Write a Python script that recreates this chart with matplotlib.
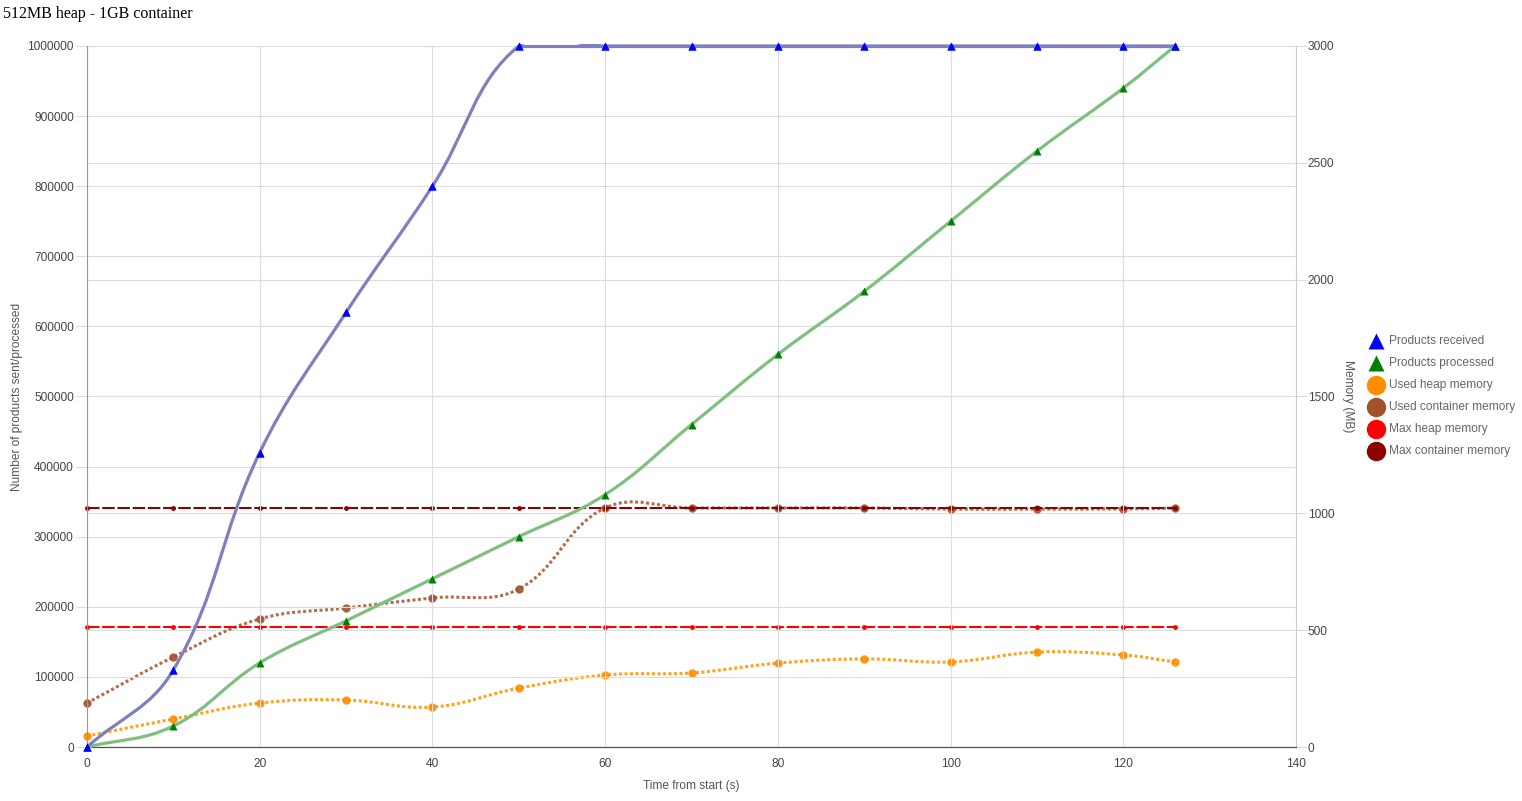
import numpy as np
import matplotlib
matplotlib.use("Agg")
import matplotlib.pyplot as plt
from matplotlib.path import Path
from matplotlib.patches import PathPatch, Rectangle
from matplotlib.lines import Line2D

plt.rcParams['font.family'] = ['Liberation Sans', 'DejaVu Sans']

title = "512MB heap - 1GB container"
time_s = [0, 10, 20, 30, 40, 50, 60, 70, 80, 90, 100, 110, 120, 126]
received = [0, 110000, 420000, 620000, 800000, 1000000, 1000000, 1000000,
            1000000, 1000000, 1000000, 1000000, 1000000, 1000000]
processed = [0, 30000, 120000, 180000, 240000, 300000, 360000, 460000,
             560000, 650000, 750000, 850000, 940000, 1000000]
used_heap = [47, 120, 188, 201, 171, 252, 308, 317, 359, 377, 364, 406, 394, 364]
used_container = [188, 385, 548, 595, 638, 676, 1023, 1023, 1023, 1023, 1018, 1018, 1019, 1022]
max_heap = [512] * len(time_s)
max_container = [1024] * len(time_s)
legend_labels = ["Products received", "Products processed", "Used heap memory",
                 "Used container memory", "Max heap memory", "Max container memory"]
left_ticks = list(range(0, 1000001, 100000))
right_ticks = list(range(0, 3001, 500))
x_ticks = list(range(0, 141, 20))

W, H = 1522, 801
fig = plt.figure(figsize=(W / 100, H / 100), dpi=100)
L, R, T, B = 87, 1296, 46, 747
ax = fig.add_axes([L / W, 1 - B / H, (R - L) / W, (B - T) / H])
ax2 = ax.twinx()
ax.set_xlim(0, 140)
ax.set_ylim(0, 1000000)
ax2.set_ylim(0, 3000)
ax.patch.set_visible(False)
ax.set_zorder(ax2.get_zorder() + 1)

grid_c = '#dddddd'
tick_c = '#444444'
fs = 8.6
ax.set_xticks(x_ticks)
ax.set_yticks(left_ticks)
ax2.set_yticks(right_ticks)
ax.set_xticklabels([str(v) for v in x_ticks])
ax.set_yticklabels([str(v) for v in left_ticks])
ax2.set_yticklabels([str(v) for v in right_ticks])
ax.grid(True, color=grid_c, lw=0.8, zorder=0)
ax2.grid(True, axis='y', color=grid_c, lw=0.8, zorder=0)
ax.tick_params(axis='both', labelsize=fs, labelcolor=tick_c, color=grid_c, length=8, width=0.8)
ax.tick_params(axis='y', pad=1.5)
ax.tick_params(axis='x', length=0, pad=8)
ax2.tick_params(axis='y', labelsize=fs, labelcolor=tick_c, color=grid_c, length=8, width=0.8, pad=0.5)
for s in ['top', 'right']:
    ax.spines[s].set_visible(False)
for s in ['top', 'left', 'bottom']:
    ax2.spines[s].set_visible(False)
ax.spines['left'].set_color('#999999')
ax.spines['bottom'].set_color('#555555')
ax2.spines['right'].set_color('#cccccc')
ax.spines['left'].set_linewidth(0.8)
ax.spines['bottom'].set_linewidth(0.9)
ax2.spines['right'].set_linewidth(0.8)

ax.set_xlabel("Time from start (s)", fontsize=fs, color='#555555', labelpad=7)
ax.set_ylabel("Number of products sent/processed", fontsize=fs, color='#555555', labelpad=3)
ax2.set_ylabel("Memory (MB)", fontsize=fs, color='#555555', rotation=-90, labelpad=14)

fig.text(3 / W, 1 - 14 / H, title, fontsize=11.5, family=['Liberation Serif', 'DejaVu Serif'],
         ha='left', va='center', color='black')


def smooth_curve(a, xs, ys, color, lw, ls, z, tension=0.4):
    pts = a.transData.transform(np.column_stack([xs, ys]))
    n = len(pts)
    cp_prev = [None] * n
    cp_next = [None] * n
    for i in range(n):
        p = pts[i]
        pr = pts[i - 1] if i > 0 else p
        nx = pts[i + 1] if i < n - 1 else p
        d01 = np.hypot(*(p - pr))
        d12 = np.hypot(*(nx - p))
        tot = d01 + d12
        s01 = d01 / tot if tot else 0
        s12 = d12 / tot if tot else 0
        cp_prev[i] = p - tension * s01 * (nx - pr)
        cp_next[i] = p + tension * s12 * (nx - pr)
    verts = [pts[0]]
    codes = [Path.MOVETO]
    for i in range(n - 1):
        verts += [cp_next[i], cp_prev[i + 1], pts[i + 1]]
        codes += [Path.CURVE4] * 3
    verts = a.transData.inverted().transform(np.array(verts))
    patch = PathPatch(Path(verts, codes), fill=False, edgecolor=color, lw=lw,
                      linestyle=ls, transform=a.transData, zorder=z, capstyle='butt')
    a.add_patch(patch)
    clip = Rectangle((-0.01, -0.01), 1.02, 1.0125, transform=a.transAxes)
    patch.set_clip_path(clip)


# memory series on right axis
smooth_curve(ax2, time_s, used_heap, '#ffa31f', 2.2, (0, (1.0, 0.8)), 3)
ax2.plot(time_s, used_heap, 'o', color='#ff8c00', ms=6, mec='none', alpha=0.9, zorder=4,
         clip_on=False)
smooth_curve(ax2, time_s, used_container, '#b07050', 2.2, (0, (1.0, 0.8)), 3)
ax2.plot(time_s, used_container, 'o', color='#a0522d', ms=6, mec='none', alpha=0.9, zorder=4,
         clip_on=False)
ax2.plot(time_s, max_heap, color='#ff0000', lw=1.5, dashes=(6, 1.3), zorder=5,
         marker='o', ms=3.5, mec='none', clip_on=False)
ax2.plot(time_s, max_container, color='#8b0000', lw=1.5, dashes=(6, 1.3), zorder=5,
         marker='o', ms=3.5, mec='none', clip_on=False)

# product counts on left axis
smooth_curve(ax, time_s, processed, '#7fbf7f', 2.3, '-', 5)
ax.plot(time_s, processed, '^', color='#008000', ms=6, mec='none', zorder=6, clip_on=False)
smooth_curve(ax, time_s, received, '#7f7fbf', 2.3, '-', 5)
ax.plot(time_s, received, '^', color='#0000ff', ms=6, mec='none', zorder=6, clip_on=False)
ax.axhline(max(received), xmin=time_s[5] / 140, xmax=time_s[-1] / 140, color='#7f7fbf',
           lw=2.3, zorder=5, clip_on=False, solid_capstyle='butt')
ax.plot(time_s, received, '^', color='#0000ff', ms=6, mec='none', zorder=6, clip_on=False)

# legend
leg_styles = [('^', '#0000ff', 11), ('^', '#008000', 11), ('o', '#ff8c00', 14),
              ('o', '#a0522d', 14), ('o', '#ff0000', 14), ('o', '#8b0000', 14)]
for i, (lab, (m, c, ms)) in enumerate(zip(legend_labels, leg_styles)):
    y = 341 + i * 22
    fig.add_artist(Line2D([1376 / W], [1 - y / H], marker=m, color=c, ms=ms, mec='none',
                          linestyle='none', transform=fig.transFigure))
    fig.text(1389 / W, 1 - y / H, lab, fontsize=fs, color='#666666', ha='left', va='center')

fig.savefig("out.png", dpi=100)
